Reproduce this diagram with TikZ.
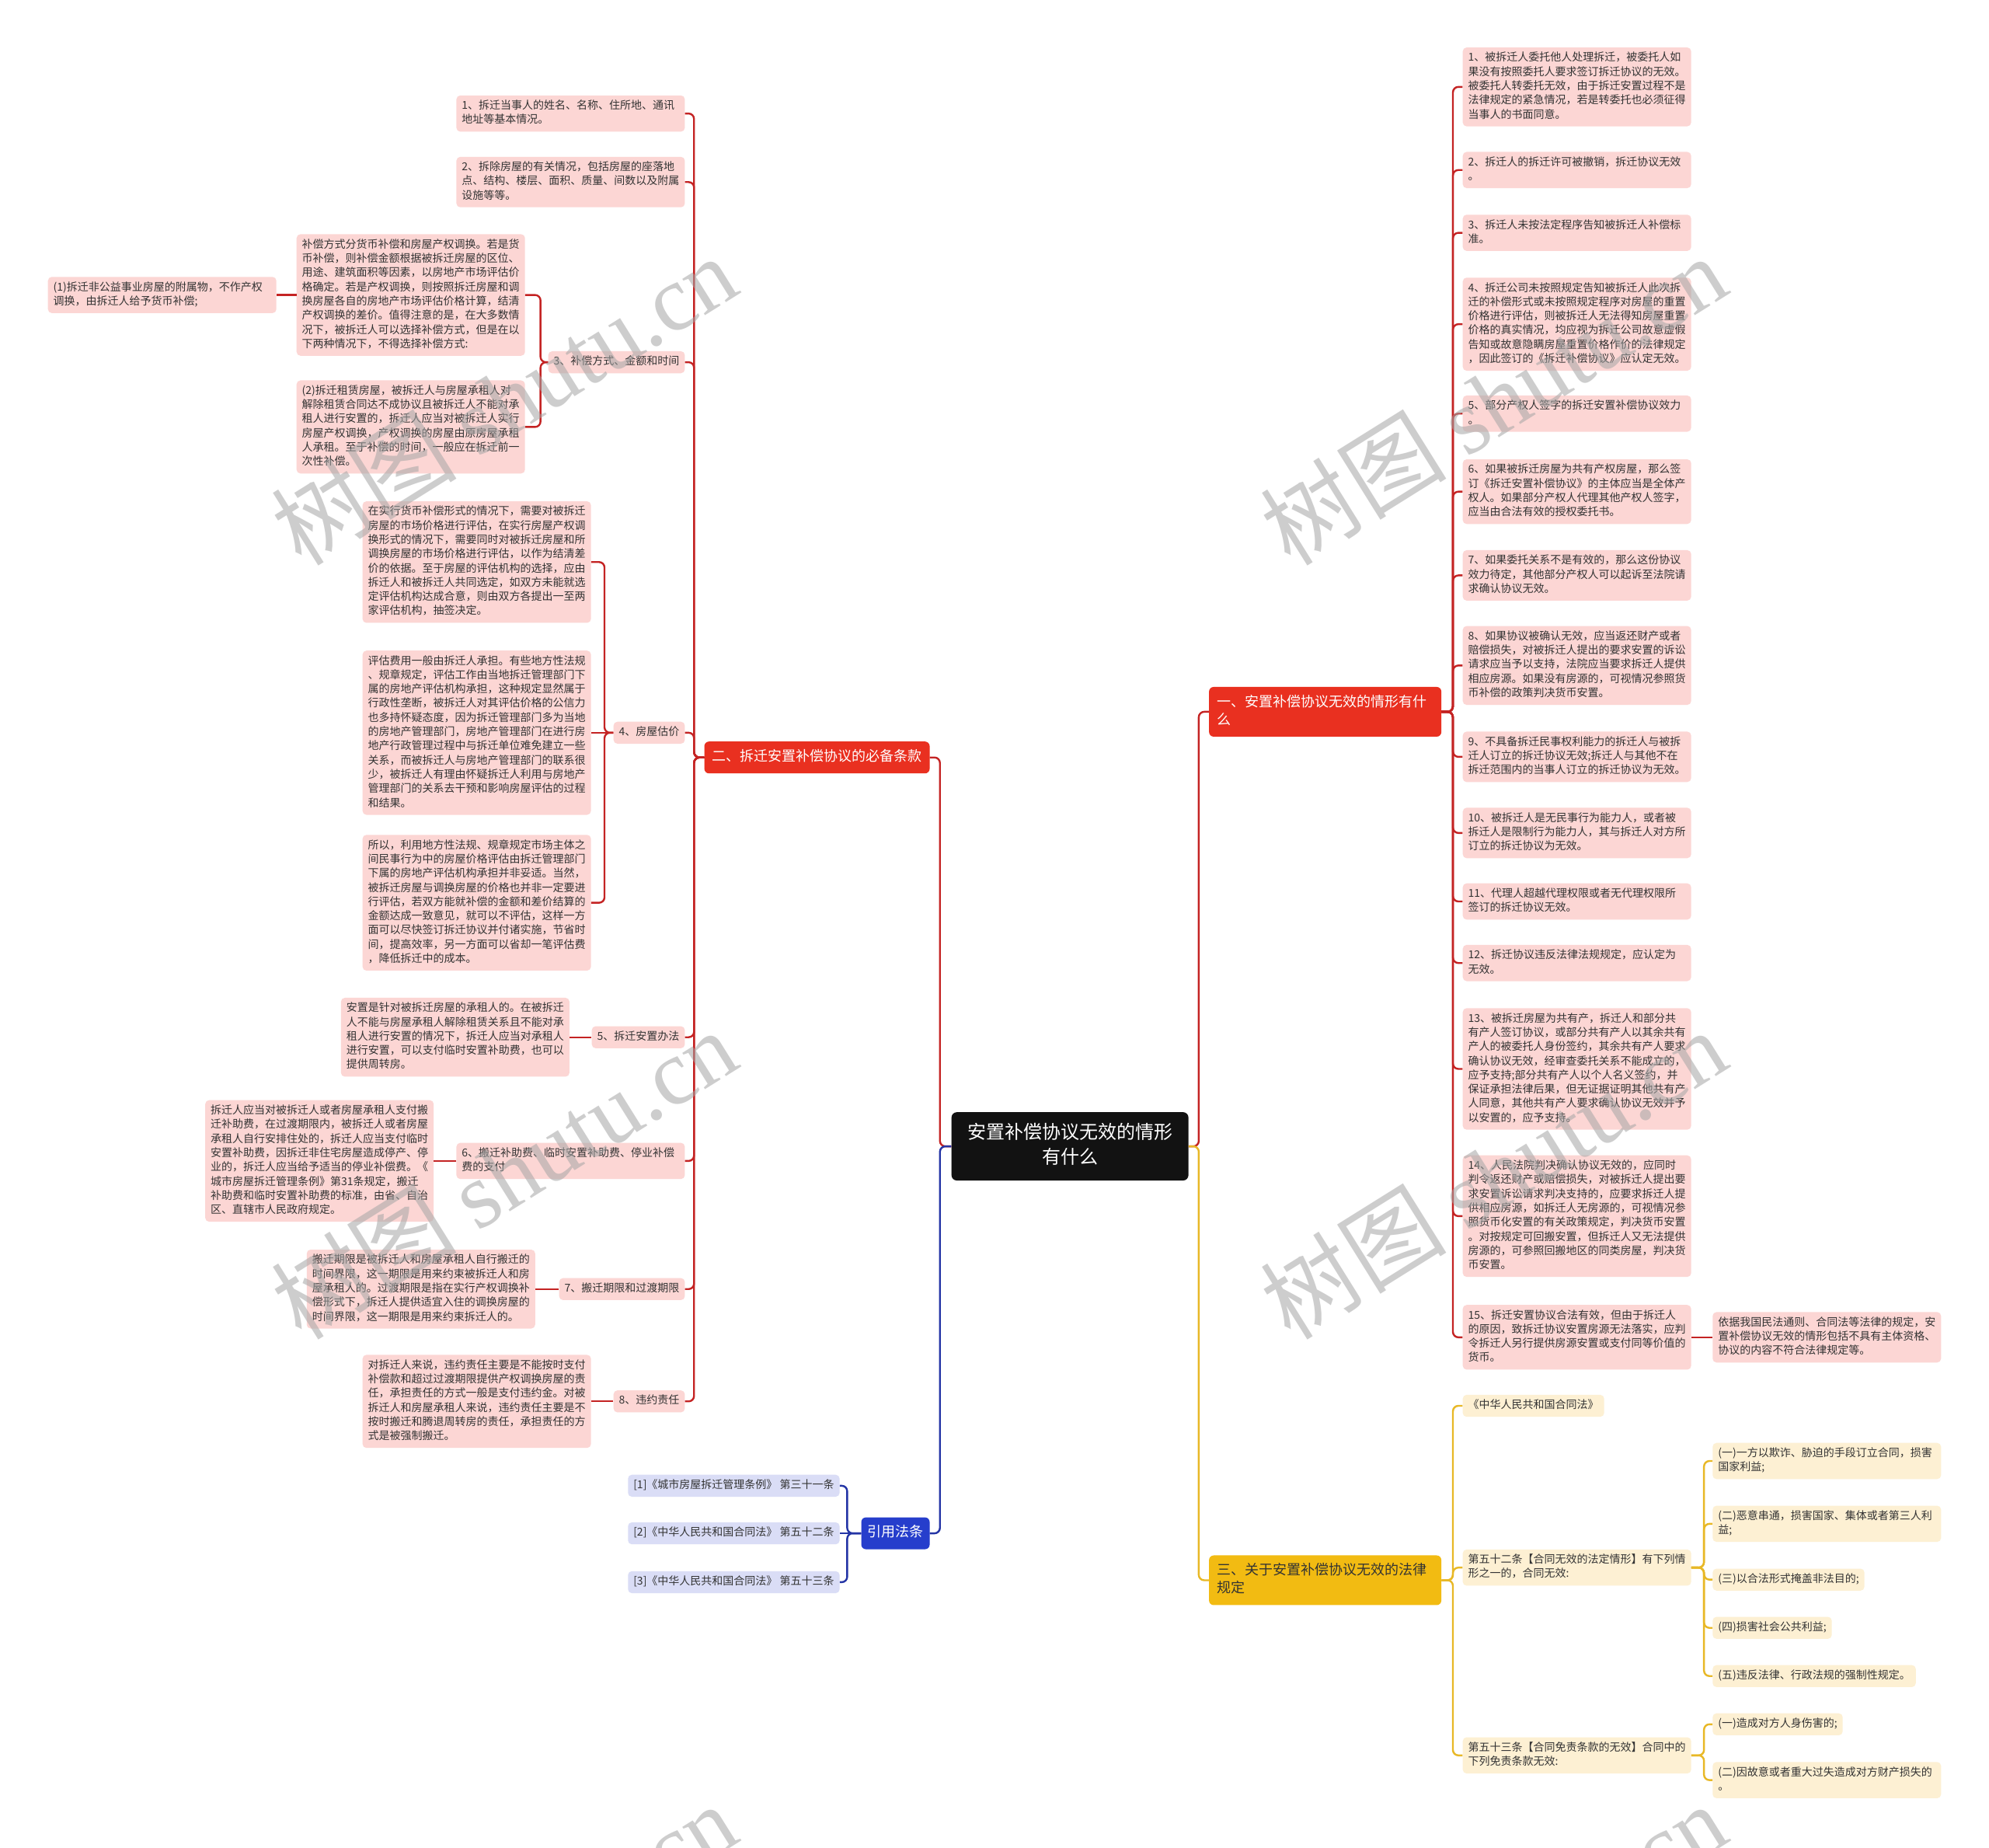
\documentclass[tikz,border=0pt]{standalone}
\usepackage{fontspec}
\setmainfont{Noto Sans CJK SC}
\newfontfamily\wmlat{Liberation Serif}
\definecolor{lineR}{RGB}{196,35,35}
\definecolor{fillR}{RGB}{233,48,32}
\definecolor{leafR}{RGB}{252,214,212}
\definecolor{lineB}{RGB}{35,52,165}
\definecolor{fillB}{RGB}{38,62,204}
\definecolor{leafB}{RGB}{218,221,246}
\definecolor{lineY}{RGB}{232,184,38}
\definecolor{fillY}{RGB}{242,187,18}
\definecolor{leafY}{RGB}{253,240,211}
\definecolor{txt}{RGB}{51,51,51}
\definecolor{wmC}{RGB}{165,165,165}
\begin{document}
\begin{tikzpicture}[x=1.6327pt,y=-1.6327pt,
 leaf/.style={rounded corners=5pt, inner xsep=7pt, inner ysep=5pt, font=\fontsize{14}{18.3}\selectfont, text=txt, align=left, execute at begin node={\parindent=0pt\strut}, execute at end node=\strut},
 wrap/.style={text width=280pt},
 lfR/.style={leaf, fill=leafR},
 lfB/.style={leaf, fill=leafB},
 lfY/.style={leaf, fill=leafY},
 branch/.style={rounded corners=6pt, inner xsep=10pt, inner ysep=9pt, font=\fontsize{18}{23}\selectfont, align=left, execute at begin node={\parindent=0pt\strut}, execute at end node=\strut},
 brR/.style={branch, fill=fillR, text=white},
 brB/.style={branch, fill=fillB, text=white, inner xsep=8pt},
 brY/.style={branch, fill=fillY, text=txt},
 root/.style={rounded corners=7pt, fill=black!93, text=white, inner xsep=20pt, inner ysep=12pt, text width=265pt, align=center, font=\fontsize{24}{32}\selectfont, execute at begin node={\parindent=0pt\strut}, execute at end node=\strut},
 cR/.style={draw=lineR, line width=2.4pt, rounded corners=7pt},
 cB/.style={draw=lineB, line width=2.4pt, rounded corners=7pt},
 cY/.style={draw=lineY, line width=2.4pt, rounded corners=7pt},
 wm/.style={rotate=32, text=wmC, opacity=0.55, font=\fontsize{120}{120}\selectfont, inner sep=0pt}
]
\useasboundingbox (0,0) rectangle (1568,1456);
\fill[white] (0,0) rectangle (1568,1456);
\clip (0,0) rectangle (1568,1456);

% root
\node[root] (c) at (843.5,903.5) {安置补偿协议无效的情形\\有什么};

% main branches
\node[brR, anchor=east] (n2) at (733,597) {二、拆迁安置补偿协议的必备条款};
\node[brB, anchor=east] (nb) at (733,1208.5) {引用法条};
\node[brR, anchor=west, text width=279pt] (n1) at (953,561) {一、安置补偿协议无效的情形有什\\么};
\node[brY, anchor=west, text width=279pt] (n3) at (953,1245.5) {三、关于安置补偿协议无效的法律\\规定};

% branch 二 children
\node[lfR, wrap, anchor=east] (n21) at (540,89.5) {1、拆迁当事人的姓名、名称、住所地、通讯\\地址等基本情况。};
\node[lfR, wrap, anchor=east] (n22) at (540,143.5) {2、拆除房屋的有关情况，包括房屋的座落地\\点、结构、楼层、面积、质量、间数以及附属\\设施等等。};
\node[lfR, anchor=east] (n23) at (540,285.5) {3、补偿方式、金额和时间};
\node[lfR, wrap, anchor=east] (n23a) at (414,232.5) {补偿方式分货币补偿和房屋产权调换。若是货\\币补偿，则补偿金额根据被拆迁房屋的区位、\\用途、建筑面积等因素，以房地产市场评估价\\格确定。若是产权调换，则按照拆迁房屋和调\\换房屋各自的房地产市场评估价格计算，结清\\产权调换的差价。值得注意的是，在大多数情\\况下，被拆迁人可以选择补偿方式，但是在以\\下两种情况下，不得选择补偿方式:};
\node[lfR, wrap, anchor=east] (n23a1) at (218,232.5) {(1)拆迁非公益事业房屋的附属物，不作产权\\调换，由拆迁人给予货币补偿;};
\node[lfR, wrap, anchor=east] (n23b) at (414,336.5) {(2)拆迁租赁房屋，被拆迁人与房屋承租人对\\解除租赁合同达不成协议且被拆迁人不能对承\\租人进行安置的，拆迁人应当对被拆迁人实行\\房屋产权调换，产权调换的房屋由原房屋承租\\人承租。至于补偿的时间，一般应在拆迁前一\\次性补偿。};
\node[lfR, anchor=east] (n24) at (540,577.5) {4、房屋估价};
\node[lfR, wrap, anchor=east] (n24a) at (466,443) {在实行货币补偿形式的情况下，需要对被拆迁\\房屋的市场价格进行评估，在实行房屋产权调\\换形式的情况下，需要同时对被拆迁房屋和所\\调换房屋的市场价格进行评估，以作为结清差\\价的依据。至于房屋的评估机构的选择，应由\\拆迁人和被拆迁人共同选定，如双方未能就选\\定评估机构达成合意，则由双方各提出一至两\\家评估机构，抽签决定。};
\node[lfR, wrap, anchor=east] (n24b) at (466,577.5) {评估费用一般由拆迁人承担。有些地方性法规\\、规章规定，评估工作由当地拆迁管理部门下\\属的房地产评估机构承担，这种规定显然属于\\行政性垄断，被拆迁人对其评估价格的公信力\\也多持怀疑态度，因为拆迁管理部门多为当地\\的房地产管理部门，房地产管理部门在进行房\\地产行政管理过程中与拆迁单位难免建立一些\\关系，而被拆迁人与房地产管理部门的联系很\\少，被拆迁人有理由怀疑拆迁人利用与房地产\\管理部门的关系去干预和影响房屋评估的过程\\和结果。};
\node[lfR, wrap, anchor=east] (n24c) at (466,711.5) {所以，利用地方性法规、规章规定市场主体之\\间民事行为中的房屋价格评估由拆迁管理部门\\下属的房地产评估机构承担并非妥适。当然，\\被拆迁房屋与调换房屋的价格也并非一定要进\\行评估，若双方能就补偿的金额和差价结算的\\金额达成一致意见，就可以不评估，这样一方\\面可以尽快签订拆迁协议并付诸实施，节省时\\间，提高效率，另一方面可以省却一笔评估费\\，降低拆迁中的成本。};
\node[lfR, anchor=east] (n25) at (540,817.5) {5、拆迁安置办法};
\node[lfR, wrap, anchor=east] (n25a) at (449,817.5) {安置是针对被拆迁房屋的承租人的。在被拆迁\\人不能与房屋承租人解除租赁关系且不能对承\\租人进行安置的情况下，拆迁人应当对承租人\\进行安置，可以支付临时安置补助费，也可以\\提供周转房。};
\node[lfR, wrap, anchor=east] (n26) at (540,915) {6、搬迁补助费、临时安置补助费、停业补偿\\费的支付};
\node[lfR, wrap, anchor=east] (n26a) at (342,915) {拆迁人应当对被拆迁人或者房屋承租人支付搬\\迁补助费，在过渡期限内，被拆迁人或者房屋\\承租人自行安排住处的，拆迁人应当支付临时\\安置补助费，因拆迁非住宅房屋造成停产、停\\业的，拆迁人应当给予适当的停业补偿费。《\\城市房屋拆迁管理条例》第31条规定，搬迁\\补助费和临时安置补助费的标准，由省、自治\\区、直辖市人民政府规定。};
\node[lfR, anchor=east] (n27) at (540,1016) {7、搬迁期限和过渡期限};
\node[lfR, wrap, anchor=east] (n27a) at (422,1016) {搬迁期限是被拆迁人和房屋承租人自行搬迁的\\时间界限，这一期限是用来约束被拆迁人和房\\屋承租人的。过渡期限是指在实行产权调换补\\偿形式下，拆迁人提供适宜入住的调换房屋的\\时间界限，这一期限是用来约束拆迁人的。};
\node[lfR, anchor=east] (n28) at (540,1104.5) {8、违约责任};
\node[lfR, wrap, anchor=east] (n28a) at (466,1104.5) {对拆迁人来说，违约责任主要是不能按时支付\\补偿款和超过过渡期限提供产权调换房屋的责\\任，承担责任的方式一般是支付违约金。对被\\拆迁人和房屋承租人来说，违约责任主要是不\\按时搬迁和腾退周转房的责任，承担责任的方\\式是被强制搬迁。};

% citations
\node[lfB, anchor=east] (b1) at (662,1171) {[1]《城市房屋拆迁管理条例》 第三十一条};
\node[lfB, anchor=east] (b2) at (662,1208.5) {[2]《中华人民共和国合同法》 第五十二条};
\node[lfB, anchor=east] (b3) at (662,1247) {[3]《中华人民共和国合同法》 第五十三条};

% branch 一 children
\node[lfR, wrap, anchor=west] (r1) at (1153,68.5) {1、被拆迁人委托他人处理拆迁，被委托人如\\果没有按照委托人要求签订拆迁协议的无效。\\被委托人转委托无效，由于拆迁安置过程不是\\法律规定的紧急情况，若是转委托也必须征得\\当事人的书面同意。};
\node[lfR, wrap, anchor=west] (r2) at (1153,134) {2、拆迁人的拆迁许可被撤销，拆迁协议无效\\。};
\node[lfR, wrap, anchor=west] (r3) at (1153,183.5) {3、拆迁人未按法定程序告知被拆迁人补偿标\\准。};
\node[lfR, wrap, anchor=west] (r4) at (1153,255.5) {4、拆迁公司未按照规定告知被拆迁人此次拆\\迁的补偿形式或未按照规定程序对房屋的重置\\价格进行评估，则被拆迁人无法得知房屋重置\\价格的真实情况，均应视为拆迁公司故意虚假\\告知或故意隐瞒房屋重置价格作价的法律规定\\，因此签订的《拆迁补偿协议》应认定无效。};
\node[lfR, wrap, anchor=west] (r5) at (1153,326) {5、部分产权人签字的拆迁安置补偿协议效力\\。};
\node[lfR, wrap, anchor=west] (r6) at (1153,387.5) {6、如果被拆迁房屋为共有产权房屋，那么签\\订《拆迁安置补偿协议》的主体应当是全体产\\权人。如果部分产权人代理其他产权人签字，\\应当由合法有效的授权委托书。};
\node[lfR, wrap, anchor=west] (r7) at (1153,453.5) {7、如果委托关系不是有效的，那么这份协议\\效力待定，其他部分产权人可以起诉至法院请\\求确认协议无效。};
\node[lfR, wrap, anchor=west] (r8) at (1153,524.5) {8、如果协议被确认无效，应当返还财产或者\\赔偿损失，对被拆迁人提出的要求安置的诉讼\\请求应当予以支持，法院应当要求拆迁人提供\\相应房源。如果没有房源的，可视情况参照货\\币补偿的政策判决货币安置。};
\node[lfR, wrap, anchor=west] (r9) at (1153,596.5) {9、不具备拆迁民事权利能力的拆迁人与被拆\\迁人订立的拆迁协议无效;拆迁人与其他不在\\拆迁范围内的当事人订立的拆迁协议为无效。};
\node[lfR, wrap, anchor=west] (r10) at (1153,656.5) {10、被拆迁人是无民事行为能力人，或者被\\拆迁人是限制行为能力人，其与拆迁人对方所\\订立的拆迁协议为无效。};
\node[lfR, wrap, anchor=west] (r11) at (1153,710.5) {11、代理人超越代理权限或者无代理权限所\\签订的拆迁协议无效。};
\node[lfR, wrap, anchor=west] (r12) at (1153,759) {12、拆迁协议违反法律法规规定，应认定为\\无效。};
\node[lfR, wrap, anchor=west] (r13) at (1153,842.5) {13、被拆迁房屋为共有产，拆迁人和部分共\\有产人签订协议，或部分共有产人以其余共有\\产人的被委托人身份签约，其余共有产人要求\\确认协议无效，经审查委托关系不能成立的，\\应予支持;部分共有产人以个人名义签约，并\\保证承担法律后果，但无证据证明其他共有产\\人同意，其他共有产人要求确认协议无效并予\\以安置的，应予支持。};
\node[lfR, wrap, anchor=west] (r14) at (1153,958.5) {14、人民法院判决确认协议无效的，应同时\\判令返还财产或赔偿损失，对被拆迁人提出要\\求安置诉讼请求判决支持的，应要求拆迁人提\\供相应房源，如拆迁人无房源的，可视情况参\\照货币化安置的有关政策规定，判决货币安置\\。对按规定可回搬安置，但拆迁人又无法提供\\房源的，可参照回搬地区的同类房屋，判决货\\币安置。};
\node[lfR, wrap, anchor=west] (r15) at (1153,1054) {15、拆迁安置协议合法有效，但由于拆迁人\\的原因，致拆迁协议安置房源无法落实，应判\\令拆迁人另行提供房源安置或支付同等价值的\\货币。};
\node[lfR, wrap, anchor=west] (r15a) at (1350,1054) {依据我国民法通则、合同法等法律的规定，安\\置补偿协议无效的情形包括不具有主体资格、\\协议的内容不符合法律规定等。};

% branch 三 children
\node[lfY, anchor=west] (y1) at (1153,1108) {《中华人民共和国合同法》};
\node[lfY, wrap, anchor=west] (y2) at (1153,1235.5) {第五十二条【合同无效的法定情形】有下列情\\形之一的，合同无效:};
\node[lfY, wrap, anchor=west] (y2a) at (1350,1151.5) {(一)一方以欺诈、胁迫的手段订立合同，损害\\国家利益;};
\node[lfY, wrap, anchor=west] (y2b) at (1350,1201) {(二)恶意串通，损害国家、集体或者第三人利\\益;};
\node[lfY, anchor=west] (y2c) at (1350,1245) {(三)以合法形式掩盖非法目的;};
\node[lfY, anchor=west] (y2d) at (1350,1283) {(四)损害社会公共利益;};
\node[lfY, anchor=west] (y2e) at (1350,1321) {(五)违反法律、行政法规的强制性规定。};
\node[lfY, wrap, anchor=west] (y3) at (1153,1383.5) {第五十三条【合同免责条款的无效】合同中的\\下列免责条款无效:};
\node[lfY, anchor=west] (y3a) at (1350,1359) {(一)造成对方人身伤害的;};
\node[lfY, wrap, anchor=west] (y3b) at (1350,1403) {(二)因故意或者重大过失造成对方财产损失的\\。};

% connectors: root
\draw[cR] (c.west) -- ++(-9,0) |- (n2.east);
\draw[cB] (c.west) -- ++(-9,0) |- (nb.east);
\draw[cR] (c.east) -- ++(8,0) |- (n1.west);
\draw[cY] (c.east) -- ++(8,0) |- (n3.west);

% branch 二
\foreach \k in {n21,n22,n23,n24,n25,n26,n27,n28}
  \draw[cR] (n2.west) -- ++(-8,0) |- (\k.east);
\foreach \k in {n23a,n23b}
  \draw[cR] (n23.west) -- ++(-6,0) |- (\k.east);
\draw[cR] (n23a.west) -- (n23a1.east);
\foreach \k in {n24a,n24c}
  \draw[cR] (n24.west) -- ++(-7,0) |- (\k.east);
\draw[cR] (n24.west) -- (n24b.east);
\draw[cR] (n25.west) -- (n25a.east);
\draw[cR] (n26.west) -- (n26a.east);
\draw[cR] (n27.west) -- (n27a.east);
\draw[cR] (n28.west) -- (n28a.east);

% citations
\draw[cB] (nb.west) -- ++(-11,0) |- (b1.east);
\draw[cB] (nb.west) -- (b2.east);
\draw[cB] (nb.west) -- ++(-11,0) |- (b3.east);

% branch 一
\foreach \k in {r1,r2,r3,r4,r5,r6,r7,r8,r9,r10,r11,r12,r13,r14,r15}
  \draw[cR] (n1.east) -- ++(9,0) |- (\k.west);
\draw[cR] (r15.east) -- (r15a.west);

% branch 三
\foreach \k in {y1,y2,y3}
  \draw[cY] (n3.east) -- ++(9,0) |- (\k.west);
\foreach \k in {y2a,y2b,y2c,y2d,y2e}
  \draw[cY] (y2.east) -- ++(10,0) |- (\k.west);
\foreach \k in {y3a,y3b}
  \draw[cY] (y3.east) -- ++(10,0) |- (\k.west);

% watermarks
\node[wm] (w1) at (397,315) {树图 {\wmlat shutu.cn}};
\node[wm] (w2) at (1177,315) {树图 {\wmlat shutu.cn}};
\node[wm] (w3) at (397,925) {树图 {\wmlat shutu.cn}};
\node[wm] (w4) at (1177,925) {树图 {\wmlat shutu.cn}};
\node[wm] (w5) at (397,1535) {树图 {\wmlat shutu.cn}};
\node[wm] (w6) at (1177,1535) {树图 {\wmlat shutu.cn}};
\end{tikzpicture}
\end{document}
